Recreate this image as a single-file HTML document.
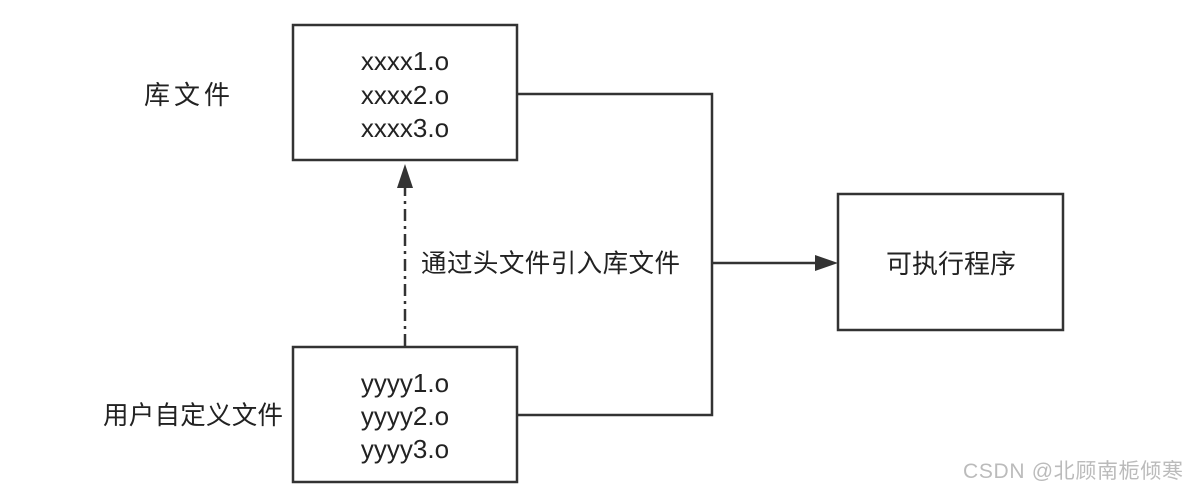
<!DOCTYPE html>
<html><head><meta charset="utf-8"><style>
body{margin:0;background:#fff;width:1187px;height:494px;overflow:hidden}
svg text{font-family:"Liberation Sans","Noto Sans CJK SC",sans-serif;fill:#222}
</style></head><body>
<svg width="1187" height="494" viewBox="0 0 1187 494" xmlns="http://www.w3.org/2000/svg">
<g fill="none" stroke="#333" stroke-width="2.5">
<rect x="293" y="25" width="224" height="135"/>
<rect x="293" y="347" width="224" height="135"/>
<rect x="838" y="194" width="225" height="136"/>
<polyline points="517,94 712,94 712,415 517,415"/>
<line x1="712" y1="263" x2="815" y2="263"/>
<line x1="405" y1="346" x2="405" y2="188" stroke-dasharray="12,5,3,5"/>
</g>
<polygon points="815,255 838,263 815,271" fill="#333"/>
<polygon points="397,188 405,164 413,188" fill="#333"/>
<g font-size="26" text-anchor="middle">
<text x="405" y="70">xxxx1.o</text>
<text x="405" y="104">xxxx2.o</text>
<text x="405" y="137">xxxx3.o</text>
<text x="405" y="392">yyyy1.o</text>
<text x="405" y="425">yyyy2.o</text>
<text x="405" y="458">yyyy3.o</text>
</g>
<text x="144" y="104" font-size="26" textLength="86">库文件</text>
<text x="103" y="424" font-size="25.5" textLength="180">用户自定义文件</text>
<text x="421" y="272" font-size="25.5" textLength="259">通过头文件引入库文件</text>
<text x="951" y="273" font-size="26" text-anchor="middle">可执行程序</text>
<text x="963" y="478" font-size="21" textLength="220" style="fill:#bbb">CSDN @北顾南栀倾寒</text>
</svg>
</body></html>
